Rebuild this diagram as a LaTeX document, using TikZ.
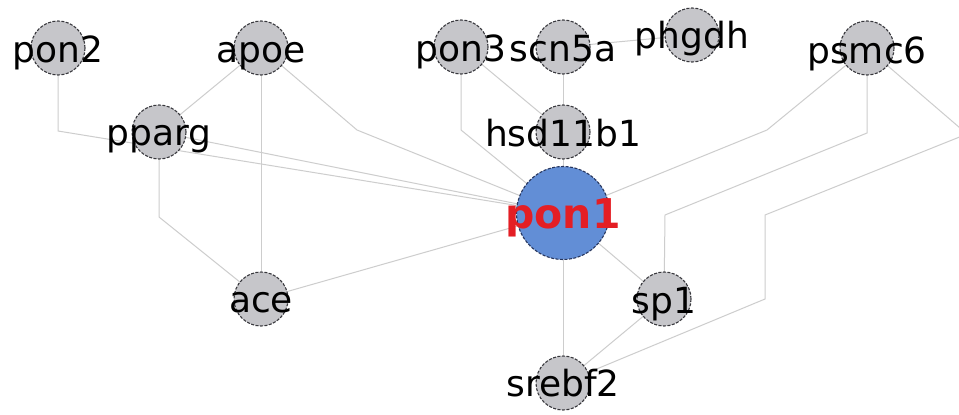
\documentclass[tikz,border=0pt]{standalone}
\usepackage{fontspec}
\setmainfont{DejaVu Sans}
\usetikzlibrary{backgrounds}
\definecolor{edgec}{RGB}{205,205,205}
\definecolor{nodefill}{RGB}{198,198,202}
\definecolor{nodeline}{RGB}{55,55,60}
\definecolor{hubfill}{RGB}{98,142,214}
\definecolor{hubline}{RGB}{40,55,95}
\definecolor{hubtext}{RGB}{228,30,36}
\begin{document}
\begin{tikzpicture}[x=1pt,y=-1pt,
  gene/.style={circle, minimum size=54pt, inner sep=0pt, fill=nodefill, draw=nodeline, line width=1.1pt, dash pattern=on 3pt off 1.5pt},
  hub/.style={circle, minimum size=93pt, inner sep=0pt, fill=hubfill, draw=hubline, line width=1.1pt, dash pattern=on 3pt off 1.5pt},
  lbl/.style={anchor=base, inner sep=0pt, font=\fontsize{36}{42}\selectfont, text=black},
  hublbl/.style={anchor=base, inner sep=0pt, font=\fontsize{41}{48}\selectfont\bfseries, text=hubtext},
  edge/.style={draw=edgec, line width=1pt}]
\useasboundingbox (0,0) rectangle (959,415);
% circles
\node[gene] (pon2) at (58,48) {};
\node[gene] (apoe) at (261,48) {};
\node[gene] (pparg) at (159,132) {};
\node[gene] (pon3) at (461,47) {};
\node[gene] (scn5a) at (563,47) {};
\node[gene] (phgdh) at (692,35) {};
\node[gene] (psmc6) at (867,48) {};
\node[gene] (hsd) at (563,132) {};
\node[hub] (pon1) at (563,213) {};
\node[gene] (ace) at (261,299) {};
\node[gene] (sp1) at (664,299) {};
\node[gene] (srebf2) at (563,383) {};
% labels
\node[lbl] (pon2t) at (58,62) {pon2};
\node[lbl] (apoet) at (261,62) {apoe};
\node[lbl] (ppargt) at (159,145) {pparg};
\node[lbl] (pon3t) at (461,61) {pon3};
\node[lbl] (scn5at) at (563,61) {scn5a};
\node[lbl] (phgdht) at (692,48) {phgdh};
\node[lbl] (psmc6t) at (867,63) {psmc6};
\node[lbl] (hsdt) at (563,146) {hsd11b1};
\node[hublbl] (pon1t) at (563,228) {pon1};
\node[lbl] (acet) at (261,312) {ace};
\node[lbl] (sp1t) at (664,313) {sp1};
\node[lbl] (srebf2t) at (563,396) {srebf2};
% bend points
\coordinate (b1) at (58,131);
\coordinate (b2) at (357,130);
\coordinate (b3) at (159,217);
\coordinate (b4) at (461,130);
\coordinate (b5) at (767,130);
\coordinate (b6) at (867,133);
\coordinate (b7) at (665,215);
\coordinate (b8) at (967,134);
\coordinate (b9) at (765,215);
\coordinate (b10) at (765,299);
\begin{scope}[on background layer]
\fill[white] (0,0) rectangle (959,415);
\draw[edge] (pon2.center) -- (b1) -- (pon1.center);
\draw[edge] (apoe.center) -- (pparg.center);
\draw[edge] (apoe.center) -- (ace.center);
\draw[edge] (apoe.center) -- (b2) -- (pon1.center);
\draw[edge] (pparg.center) -- (pon1.center);
\draw[edge] (pparg.center) -- (b3) -- (ace.center);
\draw[edge] (pon3.center) -- (b4) -- (pon1.center);
\draw[edge] (pon3.center) -- (hsd.center);
\draw[edge] (scn5a.center) -- (hsd.center);
\draw[edge] (scn5a.center) -- (phgdh.center);
\draw[edge] (hsd.center) -- (pon1.center);
\draw[edge] (psmc6.center) -- (b5) -- (pon1.center);
\draw[edge] (psmc6.center) -- (b6) -- (b7) -- (sp1.center);
\draw[edge] (psmc6.center) -- (b8) -- (b9) -- (b10) -- (srebf2.center);
\draw[edge] (pon1.center) -- (sp1.center);
\draw[edge] (pon1.center) -- (srebf2.center);
\draw[edge] (sp1.center) -- (srebf2.center);
\draw[edge] (pon1.center) -- (ace.center);
\end{scope}
\end{tikzpicture}
\end{document}
